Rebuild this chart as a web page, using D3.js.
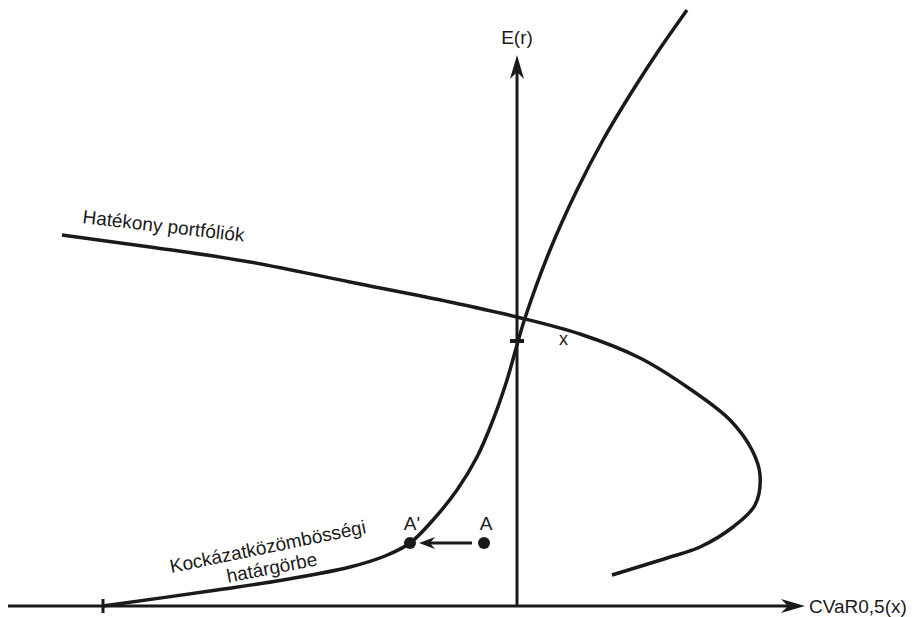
<!DOCTYPE html>
<html>
<head>
<meta charset="utf-8">
<script src="https://cdn.jsdelivr.net/npm/d3@7"></script>
<style>
  body { margin: 0; background: #fff; }
  text { font-family: "Liberation Sans", Arial, sans-serif; fill: #1a1a1a; }
</style>
</head>
<body>
<div id="chart"></div>
<script>
// efficient frontier ("Hatékony portfóliók"), in chart units [CVaR, E(r)]
const efficientX = [-9.1, -7.34, -5.34, -3.34, -1.34, 0, 1.26, 2.46, 3.46, 4.26, 4.7, 4.86, 4.76, 4.32, 3.66, 3.0, 1.9];
const efficientY = [7.42, 7.18, 6.88, 6.48, 6.08, 5.78, 5.44, 4.96, 4.34, 3.72, 3.12, 2.62, 2.02, 1.58, 1.18, 0.96, 0.62];

// risk-neutral frontier ("Kockázatközömbösségi határgörbe")
const neutralX = [-8.28, -6, -4.68, -3.34, -2.64, -2.14, -1.68, -1.2, -0.8, -0.48, -0.2, 0, 0.16, 0.66, 1.2, 1.72, 2.32, 2.84, 3.4];
const neutralY = [0, 0.32, 0.52, 0.78, 1.0, 1.26, 1.72, 2.32, 2.98, 3.72, 4.52, 5.22, 5.76, 7.12, 8.32, 9.32, 10.32, 11.12, 11.92];

// marked points
const pointNames = ["A'", "A"];
const pointX = [-2.14, -0.66];
const pointY = [1.26, 1.26];

const xTick = -8.28;   // where the risk-neutral curve meets the x axis
const yTick = 5.3;     // value marked on the E(r) axis
const xAxisRange = [-10.18, 5.76];
const yAxisRange = [0, 11.02];

const width = 915, height = 617;

const x = d3.scaleLinear().domain([-10, 8]).range([17, 917]);
const y = d3.scaleLinear().domain([0, 12]).range([606, 6]);

const svg = d3.select("#chart").append("svg")
  .attr("width", width)
  .attr("height", height);

const ink = "#1a1a1a";

//#region axes
svg.append("line")
  .attr("x1", x(xAxisRange[0])).attr("x2", x(xAxisRange[1]) - 10)
  .attr("y1", y(0)).attr("y2", y(0))
  .attr("stroke", ink).attr("stroke-width", 3);

svg.append("line")
  .attr("x1", x(0)).attr("x2", x(0))
  .attr("y1", y(0)).attr("y2", y(yAxisRange[1]) + 10)
  .attr("stroke", ink).attr("stroke-width", 3);

// arrow heads
const xTip = [x(xAxisRange[1]), y(0)];
svg.append("path")
  .attr("d", `M${xTip[0]},${xTip[1]} L${xTip[0] - 24},${xTip[1] - 7} L${xTip[0] - 17},${xTip[1]} L${xTip[0] - 24},${xTip[1] + 7} Z`)
  .attr("fill", ink);

const yTip = [x(0), y(yAxisRange[1])];
svg.append("path")
  .attr("d", `M${yTip[0]},${yTip[1]} L${yTip[0] - 7},${yTip[1] + 24} L${yTip[0]},${yTip[1] + 17} L${yTip[0] + 7},${yTip[1] + 24} Z`)
  .attr("fill", ink);

// ticks
svg.append("line")
  .attr("x1", x(xTick)).attr("x2", x(xTick))
  .attr("y1", y(0) - 7).attr("y2", y(0) + 7)
  .attr("stroke", ink).attr("stroke-width", 3);

svg.append("line")
  .attr("x1", x(0) - 7).attr("x2", x(0) + 7)
  .attr("y1", y(yTick)).attr("y2", y(yTick))
  .attr("stroke", ink).attr("stroke-width", 4);

svg.append("text")
  .attr("x", x(xAxisRange[1]) + 4).attr("y", y(0) + 7)
  .attr("font-size", 19)
  .text("CVaR0,5(x)");

svg.append("text")
  .attr("x", x(0)).attr("y", y(yAxisRange[1]) - 11)
  .attr("text-anchor", "middle")
  .attr("font-size", 19)
  .text("E(r)");

svg.append("text")
  .attr("x", x(0) + 42).attr("y", y(yTick) + 4)
  .attr("font-size", 18)
  .text("x");
//#endregion

//#region curves
const line = d3.line()
  .x(d => x(d[0]))
  .y(d => y(d[1]))
  .curve(d3.curveCatmullRom.alpha(0.5));

svg.append("path")
  .datum(efficientX.map((v, i) => [v, efficientY[i]]))
  .attr("d", line)
  .attr("fill", "none")
  .attr("stroke", ink)
  .attr("stroke-width", 3.5);

svg.append("path")
  .datum(neutralX.map((v, i) => [v, neutralY[i]]))
  .attr("d", line)
  .attr("fill", "none")
  .attr("stroke", ink)
  .attr("stroke-width", 3.5);

svg.append("text")
  .attr("transform", `translate(${x(-8.7)},${y(7.66)}) rotate(6.6)`)
  .attr("font-size", 19)
  .text("Hatékony portfóliók");

svg.append("text")
  .attr("transform", `translate(${x(-4.96)},${y(1.06)}) rotate(-11.6)`)
  .attr("text-anchor", "middle")
  .attr("font-size", 19)
  .text("Kockázatközömbösségi");

svg.append("text")
  .attr("transform", `translate(${x(-4.88)},${y(0.64)}) rotate(-11)`)
  .attr("text-anchor", "middle")
  .attr("font-size", 19)
  .text("határgörbe");
//#endregion

//#region points and arrow
svg.selectAll("circle.pt")
  .data(pointNames)
  .join("circle")
  .attr("class", "pt")
  .attr("cx", (d, i) => x(pointX[i]))
  .attr("cy", (d, i) => y(pointY[i]))
  .attr("r", 6)
  .attr("fill", ink);

svg.selectAll("text.pt")
  .data(pointNames)
  .join("text")
  .attr("class", "pt")
  .attr("x", (d, i) => x(pointX[i]) + 2)
  .attr("y", (d, i) => y(pointY[i]) - 13)
  .attr("text-anchor", "middle")
  .attr("font-size", 19)
  .text(d => d);

const aStart = x(pointX[1]) - 12;
const aTip = x(pointX[0]) + 9;
const aY = y(pointY[0]);
svg.append("line")
  .attr("x1", aStart).attr("x2", aTip + 8)
  .attr("y1", aY).attr("y2", aY)
  .attr("stroke", ink).attr("stroke-width", 3);
svg.append("path")
  .attr("d", `M${aTip},${aY} L${aTip + 16},${aY - 6} L${aTip + 11},${aY} L${aTip + 16},${aY + 6} Z`)
  .attr("fill", ink);
//#endregion
</script>
</body>
</html>
